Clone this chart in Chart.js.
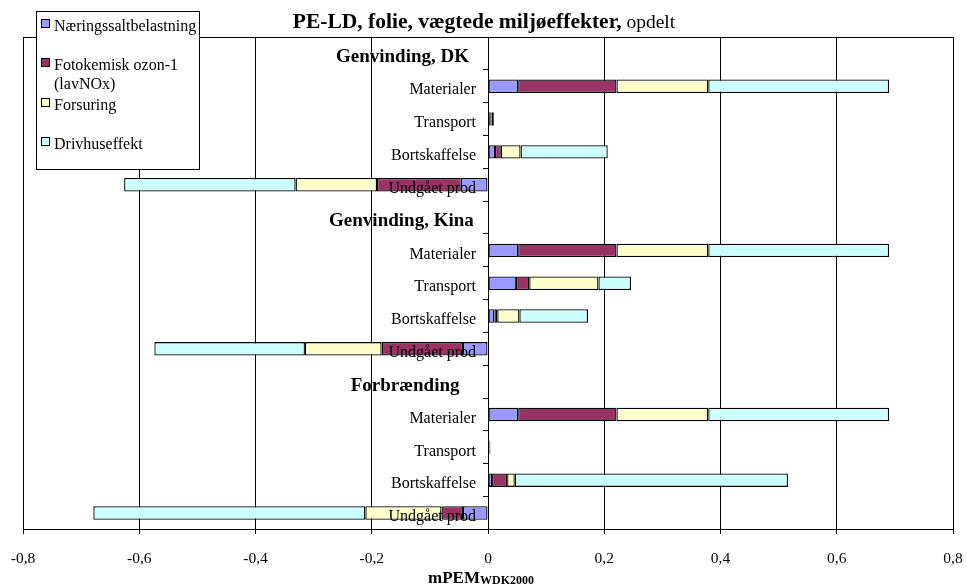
<!DOCTYPE html>
<html>
<head>
<meta charset="utf-8">
<title>PE-LD, folie, vægtede miljøeffekter</title>
<script src="https://cdn.jsdelivr.net/npm/chart.js@4.4.1/dist/chart.umd.min.js"></script>
<style>
  html, body { margin: 0; padding: 0; background: #fff; }
</style>
</head>
<body>
<canvas id="effectChart" width="967" height="586"></canvas>
<script>
// Rows of the chart, top to bottom; the bold rows are group headers
const categories = [
  'Genvinding, DK', 'Materialer', 'Transport', 'Bortskaffelse', 'Undgået prod',
  'Genvinding, Kina', 'Materialer', 'Transport', 'Bortskaffelse', 'Undgået prod',
  'Forbrænding', 'Materialer', 'Transport', 'Bortskaffelse', 'Undgået prod'
];
const headerRows = [0, 5, 10];

// mPEM WDK2000 per effect category
const naeringssalt = [null, 0.052, 0.002, 0.012, -0.047, null, 0.052, 0.048, 0.011, -0.043, null, 0.052, 0.001, 0.007, -0.043];
const fotokemisk   = [null, 0.169, 0.002, 0.010, -0.144, null, 0.169, 0.023, 0.005, -0.140, null, 0.169, 0.001, 0.026, -0.037];
const forsuring    = [null, 0.158, 0.002, 0.034, -0.140, null, 0.158, 0.119, 0.038, -0.132, null, 0.158, 0.001, 0.013, -0.131];
const drivhus      = [null, 0.311, 0.004, 0.150, -0.295, null, 0.311, 0.056, 0.118, -0.259, null, 0.311, 0.001, 0.470, -0.468];

const serif = '"Liberation Serif", "Times New Roman", serif';
Chart.defaults.font.family = serif;
Chart.defaults.color = '#000';

// trailing spaces keep the row labels clear of the zero line
const labelGap = { 0: 4, 5: 3, 10: 6 };

function series(label, data, color) {
  return {
    label: label,
    data: data,
    backgroundColor: color,
    borderColor: '#000',
    borderWidth: 1.3,
    borderSkipped: false,
    barPercentage: 0.41,
    categoryPercentage: 1
  };
}

// title, plot frame, legend box and x-axis caption
const decorations = {
  id: 'decorations',
  beforeDatasetsDraw(chart) {
    const { ctx, chartArea } = chart;
    ctx.save();
    ctx.strokeStyle = '#000';
    ctx.lineWidth = 1;
    ctx.beginPath();
    ctx.moveTo(chartArea.left, Math.round(chartArea.top) + 0.5);
    ctx.lineTo(chartArea.right, Math.round(chartArea.top) + 0.5);
    ctx.stroke();
    ctx.restore();
  },
  afterDraw(chart) {
    const ctx = chart.ctx;
    ctx.save();
    ctx.fillStyle = '#000';
    ctx.textBaseline = 'alphabetic';
    ctx.textAlign = 'left';

    // chart title: bold part followed by a plain word
    const boldFont = 'bold 21.5px ' + serif;
    const plainFont = '19.5px ' + serif;
    const t1 = 'PE-LD, folie, vægtede miljøeffekter,';
    const t2 = ' opdelt';
    ctx.font = boldFont;
    const w1 = ctx.measureText(t1).width;
    ctx.font = plainFont;
    const w2 = ctx.measureText(t2).width;
    const tx = 484 - (w1 + w2) / 2;
    ctx.font = boldFont;
    ctx.fillText(t1, tx, 28);
    ctx.font = plainFont;
    ctx.fillText(t2, tx + w1, 28);

    // x-axis caption with subscript
    const a1 = 'mPEM';
    const a2 = 'WDK2000';
    ctx.font = 'bold 17px ' + serif;
    const aw1 = ctx.measureText(a1).width;
    ctx.font = 'bold 12px ' + serif;
    const aw2 = ctx.measureText(a2).width;
    const ax = 481 - (aw1 + aw2) / 2;
    ctx.font = 'bold 17px ' + serif;
    ctx.fillText(a1, ax, 583);
    ctx.font = 'bold 12px ' + serif;
    ctx.fillText(a2, ax + aw1, 584);

    // legend
    const lg = { x: 36, y: 11, w: 163, h: 158, first: 30.7, step: 39.5, line: 18.3 };
    ctx.fillStyle = '#fff';
    ctx.fillRect(lg.x, lg.y, lg.w, lg.h);
    ctx.strokeStyle = '#000';
    ctx.lineWidth = 1;
    ctx.strokeRect(lg.x + 0.5, lg.y + 0.5, lg.w, lg.h);
    ctx.font = '16px ' + serif;
    chart.data.datasets.forEach((ds, i) => {
      const base = lg.first + i * lg.step;
      ctx.fillStyle = ds.backgroundColor;
      ctx.fillRect(41, Math.round(base - 12), 9, 9);
      ctx.strokeRect(41.5, Math.round(base - 12) + 0.5, 8, 8);
      ctx.fillStyle = '#000';
      [].concat(ds.label).forEach((line, j) => {
        ctx.fillText(line, 54, base + j * lg.line);
      });
    });
    ctx.restore();
  }
};

new Chart(document.getElementById('effectChart'), {
  type: 'bar',
  data: {
    labels: categories,
    datasets: [
      series('Næringssaltbelastning', naeringssalt, '#9999FF'),
      series(['Fotokemisk ozon-1', '(lavNOx)'], fotokemisk, '#993366'),
      series('Forsuring', forsuring, '#FFFFCC'),
      series('Drivhuseffekt', drivhus, '#CCFFFF')
    ]
  },
  options: {
    indexAxis: 'y',
    responsive: false,
    animation: false,
    layout: { padding: { left: 23, right: 14, top: 37, bottom: 18 } },
    plugins: {
      legend: { display: false },
      tooltip: { enabled: false },
      title: { display: false }
    },
    scales: {
      x: {
        stacked: true,
        min: -0.8,
        max: 0.8,
        ticks: {
          stepSize: 0.2,
          padding: 0,
          font: { size: 15.5 },
          color: '#000',
          callback: (v) => {
            const r = Math.round(v * 10) / 10;
            return r === 0 ? '0' : r.toFixed(1).replace('.', ',');
          }
        },
        // long tick slot for label spacing, only the first 4px of each mark is drawn
        grid: { color: '#000', lineWidth: 1, tickLength: 20, tickBorderDash: [4, 100] },
        border: { color: '#000' }
      },
      y: {
        stacked: true,
        position: { x: 0 },
        ticks: {
          z: 1,
          autoSkip: false,
          labelOffset: 4,
          color: '#000',
          callback: (v, i) => categories[i] + ' '.repeat(labelGap[i] || 3),
          font: (c) => headerRows.includes(c.index)
            ? { size: 19, weight: 'bold' }
            : { size: 16 }
        },
        grid: { drawOnChartArea: false, offset: true, tickLength: 5, color: '#000' },
        border: { color: '#000' }
      }
    }
  },
  plugins: [decorations]
});
</script>
</body>
</html>
